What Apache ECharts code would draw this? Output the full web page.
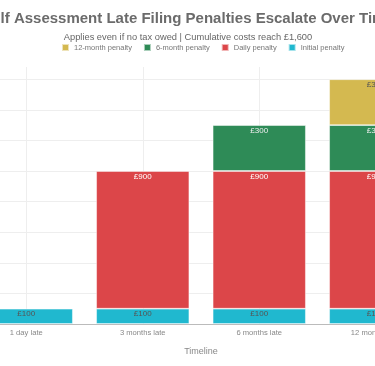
<!DOCTYPE html>
<html><head><meta charset="utf-8">
<script src="https://cdn.jsdelivr.net/npm/echarts@6/dist/echarts.min.js"></script>
<style>
html,body{margin:0;padding:0;width:375px;height:366px;overflow:hidden;background:#fff;position:relative;}
#c{position:absolute;left:-112px;top:0;width:600px;height:366px;}
</style></head>
<body><div id="c"></div>
<script>
const categories = ['1 day late', '3 months late', '6 months late', '12 months late'];
const initialPenalty = [100, 100, 100, 100];
const dailyPenalty = [null, 900, 900, 900];
const sixMonthPenalty = [null, null, 300, 300];
const twelveMonthPenalty = [null, null, null, 300];
const yTicks = [0, 200, 400, 600, 800, 1000, 1200, 1400, 1600];

const chart = echarts.init(document.getElementById('c'), null, {renderer: 'canvas'});
const FONT = '"Liberation Sans", Arial, sans-serif';
function mk(name, data, color, labelColor) {
  return {
    name: name, type: 'bar', stack: 'total', data: data,
    barCategoryGap: '20%',
    itemStyle: {color: color, borderColor: 'rgba(255,255,255,0.6)', borderWidth: 0.8},
    label: {show: true, position: 'insideTop', distance: 1.5, formatter: '£{c}', color: labelColor, fontSize: 8, fontFamily: FONT}
  };
}
chart.setOption({
  animation: false,
  textStyle: {fontFamily: FONT},
  title: {
    text: 'Self Assessment Late Filing Penalties Escalate Over Time',
    subtext: 'Applies even if no tax owed | Cumulative costs reach £1,600',
    left: 'center', top: 6.5, itemGap: 6,
    textStyle: {fontSize: 15, fontWeight: 'bold', color: '#6b6b6b', fontFamily: FONT},
    subtextStyle: {fontSize: 9.3, color: '#666', fontFamily: FONT}
  },
  legend: {
    data: ['12-month penalty', '6-month penalty', 'Daily penalty', 'Initial penalty'],
    top: 38, left: 168, itemWidth: 7, itemHeight: 7, itemGap: 11, icon: 'rect',
    textStyle: {fontSize: 7.5, color: '#777', fontFamily: FONT}
  },
  grid: {left: 80, right: 54, top: 67, bottom: 42},
  xAxis: {
    type: 'category', data: categories,
    name: 'Timeline', nameLocation: 'middle', nameGap: 23,
    nameTextStyle: {fontSize: 9, color: '#888'},
    axisLine: {lineStyle: {color: '#bbb'}},
    axisTick: {alignWithLabel: true, lineStyle: {color: '#ddd'}},
    axisLabel: {fontSize: 7.6, color: '#888', margin: 5},
    splitLine: {show: true, alignWithLabel: true, lineStyle: {color: '#eee'}}
  },
  yAxis: {
    type: 'value', min: yTicks[0], max: 1680, interval: yTicks[1] - yTicks[0],
    axisLabel: {fontSize: 8, color: '#888', formatter: '£{value}'},
    splitLine: {show: true, showMaxLine: false, lineStyle: {color: '#eee'}}
  },
  series: [
    mk('Initial penalty', initialPenalty, '#20b8cf', '#555'),
    mk('Daily penalty', dailyPenalty, '#dc4649', '#fff'),
    mk('6-month penalty', sixMonthPenalty, '#2e8b57', '#eee'),
    mk('12-month penalty', twelveMonthPenalty, '#d4b950', '#555')
  ]
});
</script></body></html>
